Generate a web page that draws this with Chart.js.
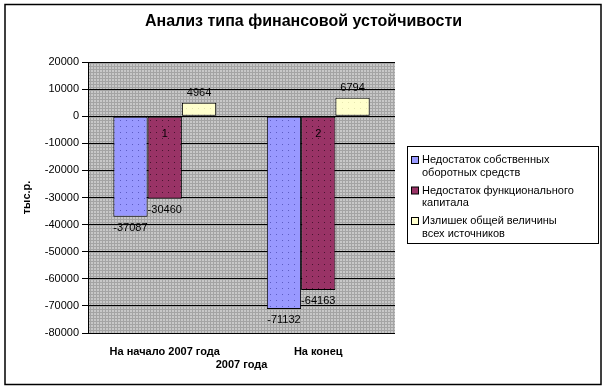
<!DOCTYPE html>
<html lang="ru">
<head>
    <meta charset="UTF-8">
    <title>Анализ типа финансовой устойчивости</title>
    <script src="https://cdn.jsdelivr.net/npm/chart.js"></script>
    <style>
        body { margin: 0; background: #fff; }
    </style>
</head>
<body>
    <canvas id="myChart" width="607" height="389"></canvas>

    <script>
        // данные диаграммы
        var chartTitle = 'Анализ типа финансовой устойчивости';
        var categories = ['На начало 2007 года', 'На конец'];
        var xAxisTitle = '2007 года';
        var yAxisTitle = 'тыс.р.';
        var seriesNames = [
            ['Недостаток собственных', 'оборотных средств'],
            ['Недостаток функционального', 'капитала'],
            ['Излишек общей величины', 'всех источников']
        ];
        var nedostatokSOS = [-37087, -71132];
        var nedostatokFK = [-30460, -64163];
        var izlishekOVI = [4964, 6794];
        var barNumbers = ['1', '2'];
        var yMin = -80000, yMax = 20000, yStep = 10000;

        var baseColors = ['#9999ff', '#993366', '#ffffcc'];
        var dotColors = ['#5c5cc4', '#4a1330', '#e6e6b0'];

        function dotPattern(base, dot, step) {
            var c = document.createElement('canvas');
            c.width = step; c.height = step;
            var g = c.getContext('2d');
            g.fillStyle = base;
            g.fillRect(0, 0, step, step);
            g.fillStyle = dot;
            g.fillRect(0, 0, 1, 1);
            return g.createPattern(c, 'repeat');
        }

        function gridPattern() {
            var c = document.createElement('canvas');
            c.width = 3; c.height = 3;
            var g = c.getContext('2d');
            g.fillStyle = '#c8c8c8';
            g.fillRect(0, 0, 3, 3);
            g.fillStyle = '#a4a4a4';
            g.fillRect(0, 0, 3, 1);
            g.fillRect(0, 0, 1, 3);
            return g.createPattern(c, 'repeat');
        }

        var plotBg = {
            id: 'plotBg',
            beforeDraw: function(chart) {
                var a = chart.chartArea, ctx = chart.ctx;
                ctx.save();
                ctx.fillStyle = gridPattern();
                ctx.fillRect(a.left, a.top, a.right - a.left, a.bottom - a.top);
                ctx.restore();
            },
            afterDraw: function(chart) {
                var ctx = chart.ctx;
                ctx.save();
                // заголовок по центру всего рисунка
                ctx.font = 'bold 16px Arial, "Liberation Sans"';
                ctx.fillStyle = '#000';
                ctx.textAlign = 'center';
                ctx.textBaseline = 'middle';
                ctx.fillText(chartTitle, chart.width / 2, 22);
                // рамка
                ctx.strokeStyle = '#000';
                ctx.lineWidth = 1.5;
                ctx.strokeRect(5, 4.5, 596, 380);
                ctx.restore();
            }
        };

        var valueLabels = {
            id: 'valueLabels',
            afterDatasetsDraw: function(chart) {
                var ctx = chart.ctx;
                ctx.save();
                ctx.font = '11px Arial, "Liberation Sans"';
                ctx.fillStyle = '#000';
                ctx.textAlign = 'center';
                ctx.textBaseline = 'middle';
                chart.data.datasets.forEach(function(ds, i) {
                    chart.getDatasetMeta(i).data.forEach(function(el, j) {
                        var v = ds.data[j];
                        var y = v >= 0 ? el.y - 10 : el.y + 11;
                        ctx.fillText(String(v), el.x, y);
                    });
                });
                // номера внутри второго ряда
                chart.getDatasetMeta(1).data.forEach(function(el, j) {
                    ctx.fillText(barNumbers[j], el.x, el.base + 17);
                });
                ctx.restore();
            }
        };

        var boxLegend = {
            id: 'boxLegend',
            afterDraw: function(chart) {
                var ctx = chart.ctx;
                var x0 = 407, y0 = 146, w = 191, h = 97;
                ctx.save();
                ctx.fillStyle = '#fff';
                ctx.fillRect(x0, y0, w, h);
                ctx.strokeStyle = '#000';
                ctx.lineWidth = 1;
                ctx.strokeRect(x0 + 0.5, y0 + 0.5, w, h);
                ctx.font = '11px Arial, "Liberation Sans"';
                ctx.textBaseline = 'middle';
                ctx.textAlign = 'left';
                seriesNames.forEach(function(lines, i) {
                    var ty = y0 + 14 + i * 30.5;
                    ctx.fillStyle = baseColors[i];
                    ctx.fillRect(x0 + 4, ty - 3.5, 7, 7);
                    ctx.strokeStyle = '#000';
                    ctx.strokeRect(x0 + 4.5, ty - 3.5, 7, 7);
                    ctx.fillStyle = '#000';
                    lines.forEach(function(t, k) {
                        ctx.fillText(t, x0 + 15, ty + k * 12.5);
                    });
                });
                ctx.restore();
            }
        };

        var datasets = [nedostatokSOS, nedostatokFK, izlishekOVI].map(function(arr, i) {
            return {
                label: seriesNames[i].join(' '),
                data: arr,
                backgroundColor: dotPattern(baseColors[i], dotColors[i], 6),
                borderColor: '#000',
                borderWidth: 1,
                borderSkipped: false,
                categoryPercentage: 0.67,
                barPercentage: 1
            };
        });

        var config = {
            type: 'bar',
            data: { labels: categories, datasets: datasets },
            options: {
                responsive: false,
                animation: false,
                devicePixelRatio: 1,
                layout: { padding: { left: 5, right: 212, top: 62, bottom: 5 } },
                plugins: {
                    legend: { display: false },
                    tooltip: { enabled: false },
                    title: { display: false }
                },
                scales: {
                    x: {
                        grid: { display: false, drawTicks: false },
                        border: { display: false },
                        ticks: {
                            color: '#000',
                            padding: 12,
                            maxRotation: 0,
                            font: { family: 'Arial, "Liberation Sans"', size: 11, weight: 'bold' }
                        },
                        title: {
                            display: true,
                            text: xAxisTitle,
                            color: '#000',
                            padding: { top: 0, bottom: 12 },
                            font: { family: 'Arial, "Liberation Sans"', size: 11, weight: 'bold' }
                        },
                        afterFit: function(scale) { scale.height = 51; }
                    },
                    y: {
                        min: yMin,
                        max: yMax,
                        ticks: {
                            stepSize: yStep,
                            color: '#000',
                            padding: 3,
                            font: { family: 'Arial, "Liberation Sans"', size: 11 },
                            callback: function(value) { return String(value); }
                        },
                        grid: { color: '#000', tickColor: '#000', tickLength: 6, lineWidth: 1 },
                        border: { color: '#000' },
                        title: {
                            display: true,
                            text: yAxisTitle,
                            color: '#000',
                            padding: { top: 15, bottom: 0 },
                            font: { family: 'Arial, "Liberation Sans"', size: 11, weight: 'bold' }
                        },
                        afterFit: function(scale) { scale.width = 83; }
                    }
                }
            },
            plugins: [plotBg, valueLabels, boxLegend]
        };

        var myChart = new Chart(document.getElementById('myChart'), config);
    </script>
</body>
</html>
